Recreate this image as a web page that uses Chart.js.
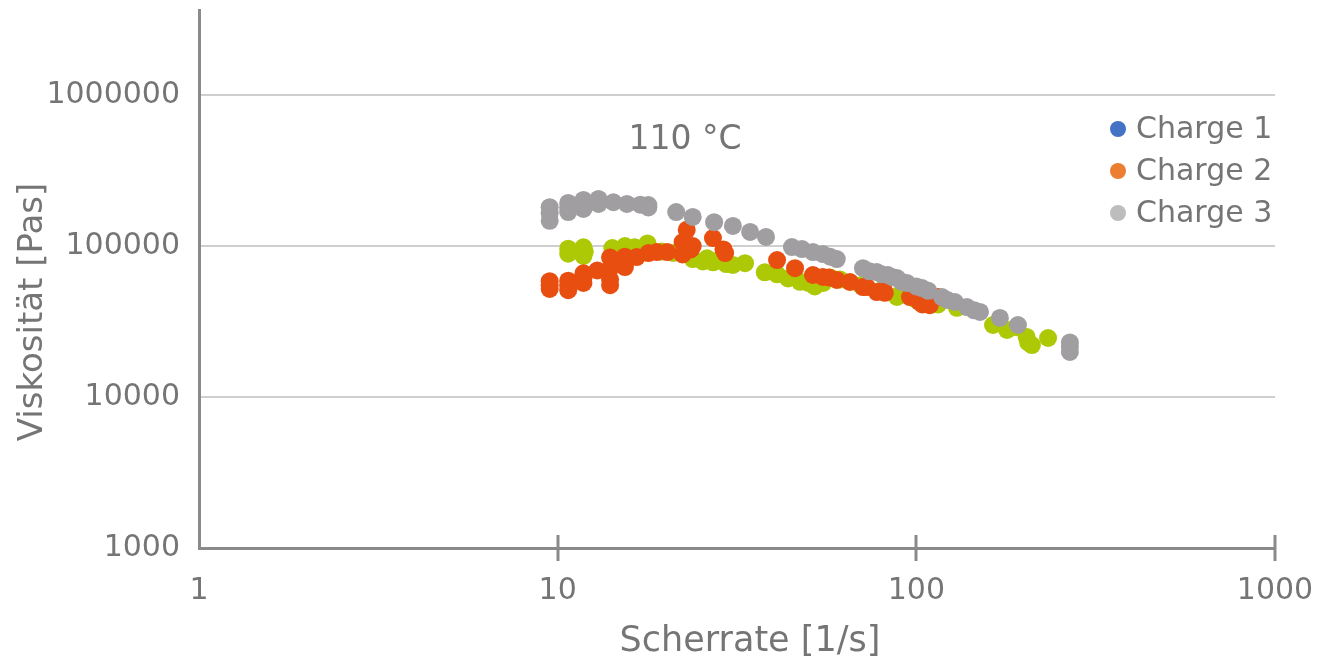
<!DOCTYPE html>
<html>
<head>
<meta charset="utf-8">
<title>Viskosität 110 °C</title>
<script src="https://cdn.jsdelivr.net/npm/chart.js@4"></script>
<style>
  html, body { margin: 0; padding: 0; background: #fff; }
  #wrap { width: 1326px; height: 661px; }
</style>
</head>
<body>
<div id="wrap"><canvas id="viskoChart" width="1326" height="661"></canvas></div>
<script>
// ---------- Daten ----------
const seriesNames = ['Charge 1', 'Charge 2', 'Charge 3'];
const legendColors = ['#4472c4', '#ed7d31', '#bdbdbd'];
const pointColors = ['#adc905', '#e84e0f', '#a09ea0'];

const xTicks = [1, 10, 100, 1000];
const yTicks = [1000, 10000, 100000, 1000000];
const yMax = 3660000;

// Charge 1
const c1Rate = [10.7, 10.7, 11.8, 11.8, 11.9, 14.2, 15.4, 16.4, 17.8, 17.8, 19.5, 21,
  23.8, 25.4, 26.1, 27.1, 27.8, 29.5, 30.8, 33.3, 37.8, 40.9, 43.9, 47.4, 50, 52.1, 55,
  57.5, 61.3, 70, 80, 88.3, 88.9, 100, 115, 129.8, 163.6, 170, 179, 190, 203, 205, 210, 233];
const c1Visk = [96000, 89000, 98000, 86000, 92000, 97000, 100000, 98000, 104000, 97000, 92000, 90000,
  82000, 79000, 83000, 78000, 80000, 76000, 75000, 77000, 67000, 65000, 61000, 58000, 57000, 54000, 57000,
  62000, 60000, 55000, 51000, 46000, 47000, 44000, 41000, 39000, 30000, 32000, 27800, 29000, 25000, 23000, 22100, 24600];

// Charge 2
const c2Rate = [9.5, 9.5, 9.5, 10.7, 10.7, 10.7, 11.8, 11.8, 11.8, 12.9, 14.0, 14.0, 14.0, 14.0,
  15.0, 15.4, 15.4, 16.6, 17.9, 18.9, 20.2, 22.3, 22.3, 22.9, 23.5, 23.8, 27.1, 29.0, 29.3,
  40.9, 45.9, 51.5, 54.9, 57, 60, 65.3, 71, 72.8, 77.6, 81, 81.7, 96, 102, 104, 109, 115];
const c2Visk = [58500, 52000, 55000, 59000, 51000, 55000, 66000, 57000, 61000, 69000, 84000, 71000, 60000, 55000,
  78000, 85000, 72600, 84500, 89900, 91300, 91300, 106000, 88000, 128000, 95000, 100000, 113000, 95000, 89900,
  80700, 71400, 64300, 62400, 62000, 59600, 57800, 53500, 53500, 49600, 51000, 49000, 45900, 42600, 41000, 40600, 45900];

// Charge 3
const c3Rate = [9.5, 9.5, 9.5, 10.7, 10.7, 10.7, 11.8, 11.8, 13.0, 13.0, 14.3, 15.6, 17.0, 17.9, 17.9,
  21.4, 23.8, 27.3, 30.8, 34.4, 38.1, 45.0, 48.0, 51.5, 54.9, 57.5, 60.0,
  71.0, 74, 77.6, 80, 83.3, 85.5, 88.3, 91, 94.2, 100, 103.7, 108, 117.9, 122, 128.1, 138.4, 145, 150.5,
  171, 192, 268, 268, 268];
const c3Visk = [181000, 165000, 147000, 193000, 168000, 180000, 202000, 176000, 205000, 190000, 195000, 190000, 188000, 187000, 180000,
  168000, 156000, 144000, 136000, 124000, 115000, 98400, 95500, 91200, 88500, 85000, 82000,
  71400, 68000, 67300, 65000, 64300, 62400, 61400, 58000, 56900, 54000, 52700, 50500, 45900, 44000, 42600, 39400, 37500, 36600,
  33400, 30000, 23000, 21500, 19900];

const TEXT = '#757575';
const AXIS = '#8a8a8a';
const FONT = 'DejaVu Sans';

function toPoints(xs, ys) {
  return xs.map((x, i) => ({ x, y: ys[i] }));
}

// keine automatischen Randabstände der Achsen
function fixPadding(s) {
  s.paddingTop = 0; s.paddingBottom = 0; s.paddingLeft = 0; s.paddingRight = 0;
}

// Achsentitel, Legende, Temperatur, Teilstriche
const overlayPlugin = {
  id: 'overlay',
  afterDraw(chart) {
    const { ctx, chartArea, scales } = chart;
    ctx.save();

    // Teilstriche x-Achse (über die Achse hinaus)
    ctx.strokeStyle = AXIS;
    ctx.lineWidth = 3;
    [10, 100, 1000].forEach(v => {
      const px = Math.round(scales.x.getPixelForValue(v));
      ctx.beginPath();
      ctx.moveTo(px, chartArea.bottom - 13);
      ctx.lineTo(px, chartArea.bottom + 13);
      ctx.stroke();
    });

    ctx.fillStyle = TEXT;
    ctx.textBaseline = 'middle';

    // Temperatur
    ctx.font = `33px "${FONT}"`;
    ctx.textAlign = 'center';
    ctx.fillText('110 °C', 685, 140);

    // Achsentitel
    ctx.font = `35px "${FONT}"`;
    ctx.fillText('Scherrate [1/s]', 750, 642);
    ctx.save();
    ctx.translate(33, 312);
    ctx.rotate(-Math.PI / 2);
    ctx.font = `34px "${FONT}"`;
    ctx.fillText('Viskosität [Pas]', 0, 0);
    ctx.restore();

    // Legende
    ctx.font = `30px "${FONT}"`;
    ctx.textAlign = 'left';
    seriesNames.forEach((name, i) => {
      const y = 129 + i * 42;
      ctx.fillStyle = legendColors[i];
      ctx.beginPath();
      ctx.arc(1118, y, 8, 0, Math.PI * 2);
      ctx.fill();
      ctx.fillStyle = TEXT;
      ctx.fillText(name, 1136, y + 1);
    });

    ctx.restore();
  }
};

const datasets = [
  { label: seriesNames[0], data: toPoints(c1Rate, c1Visk), backgroundColor: pointColors[0], order: 3 },
  { label: seriesNames[1], data: toPoints(c2Rate, c2Visk), backgroundColor: pointColors[1], order: 2 },
  { label: seriesNames[2], data: toPoints(c3Rate, c3Visk), backgroundColor: pointColors[2], order: 1 }
].map(d => ({ ...d, pointRadius: 9, pointHoverRadius: 9, borderWidth: 0, borderColor: d.backgroundColor }));

Chart.defaults.font.family = FONT;
Chart.defaults.color = TEXT;

new Chart(document.getElementById('viskoChart'), {
  type: 'scatter',
  data: { datasets },
  options: {
    responsive: false,
    animation: false,
    layout: { padding: { left: 0, right: 51, top: 10, bottom: 0 } },
    plugins: { legend: { display: false }, tooltip: { enabled: false } },
    scales: {
      x: {
        type: 'logarithmic',
        min: 1, max: 1000,
        afterBuildTicks: s => { s.ticks = xTicks.map(v => ({ value: v })); },
        afterFit: s => { s.height = 113; fixPadding(s); },
        ticks: { callback: v => String(v), font: { size: 30 }, color: TEXT, padding: 25, maxRotation: 0, autoSkip: false },
        grid: { drawOnChartArea: false, drawTicks: false },
        border: { color: AXIS, width: 3 }
      },
      y: {
        type: 'logarithmic',
        min: 1000, max: yMax,
        afterBuildTicks: s => { s.ticks = yTicks.map(v => ({ value: v })); },
        afterFit: s => { s.width = 199; fixPadding(s); },
        ticks: { callback: v => String(v), font: { size: 30 }, color: TEXT, padding: 19, autoSkip: false },
        grid: { color: c => c.tick && c.tick.value === 1000 ? 'rgba(0,0,0,0)' : '#cfcfcf', lineWidth: 2, drawTicks: false },
        border: { color: AXIS, width: 3 }
      }
    }
  },
  plugins: [overlayPlugin]
});
</script>
</body>
</html>
